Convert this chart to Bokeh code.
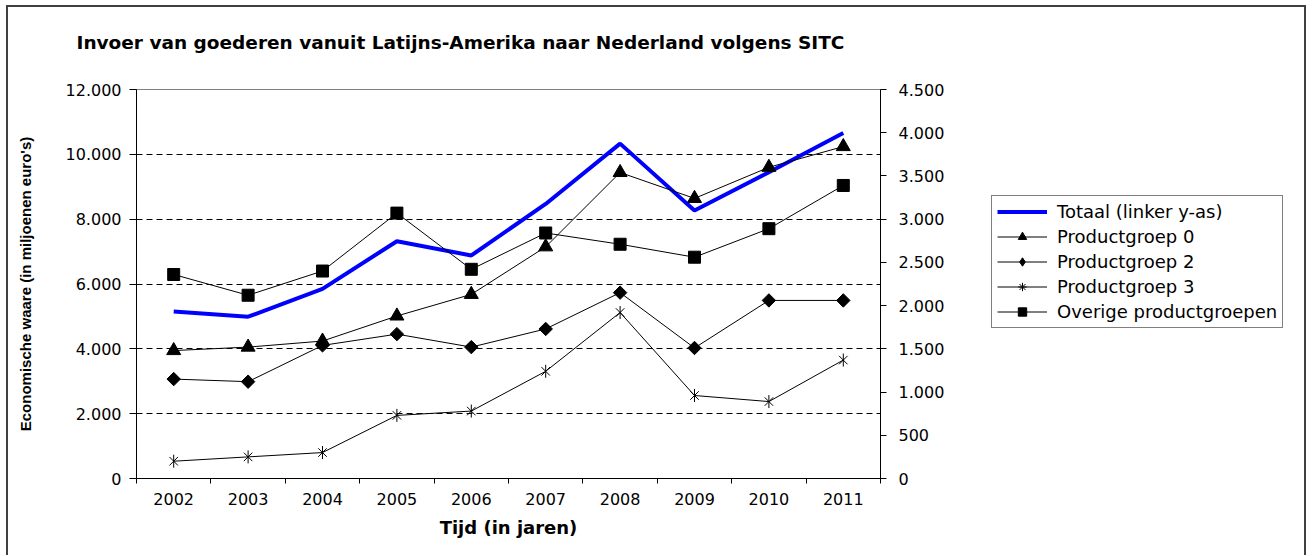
from bokeh.plotting import figure
from bokeh.models import (Range1d, LinearAxis, FixedTicker, CustomJSTickFormatter,
                          Legend, LegendItem, Row, Title)
from bokeh.embed import file_html
from bokeh.resources import INLINE
import math

# ---- data ----
years = ["2002", "2003", "2004", "2005", "2006", "2007", "2008", "2009", "2010", "2011"]
totaal = [5150, 4990, 5850, 7320, 6880, 8470, 10330, 8270, 9450, 10660]      # left axis
pg0 = [1480, 1520, 1590, 1880, 2130, 2680, 3540, 3240, 3600, 3840]           # right axis
pg2 = [1150, 1120, 1540, 1670, 1520, 1730, 2150, 1510, 2060, 2060]
pg3 = [200, 250, 300, 730, 780, 1240, 1920, 960, 890, 1370]
overige = [2360, 2120, 2400, 3070, 2420, 2840, 2710, 2560, 2890, 3390]
left_ticks = [0, 2000, 4000, 6000, 8000, 10000, 12000]
right_ticks = [0, 500, 1000, 1500, 2000, 2500, 3000, 3500, 4000, 4500]

title_text = "Invoer van goederen vanuit Latijns-Amerika naar Nederland volgens SITC"
x_label = "Tijd (in jaren)"
y_label = "Economische waare (in miljoenen euro's)"
names = ["Totaal (linker y-as)", "Productgroep 0", "Productgroep 2",
         "Productgroep 3", "Overige productgroepen"]

# category positions (centre of each category slot)
xs = [i + 0.5 for i in range(len(years))]
bounds = [i for i in range(len(years) + 1)]

FONT = "DejaVu Sans"
fmt = CustomJSTickFormatter(code="return tick.toString().replace(/\\B(?=(\\d{3})+(?!\\d))/g, '.');")

H = 548
p = figure(width=951, height=H, output_backend="svg", toolbar_location=None,
           x_range=Range1d(0, len(years)), y_range=Range1d(left_ticks[0], left_ticks[-1]),
           min_border_left=128, min_border_right=79, min_border_top=82, min_border_bottom=77,
           background_fill_color="white", border_fill_color="white")
p.outline_line_color = "#808080"
p.outline_line_width = 1

# title: an empty spacer title next to the frame, the real title above it
p.title.text = ""
p.title.standoff = 0
p.add_layout(Title(text=" ", text_font_size="1px", standoff=34), "above")
p.add_layout(Title(text=title_text, text_font=FONT, text_font_size="18.5px",
                   text_font_style="bold", text_color="black", align="left",
                   offset=-60, standoff=0), "above")

# x axis
xa = p.xaxis[0]
xa.ticker = FixedTicker(ticks=xs, minor_ticks=bounds)
xa.major_label_overrides = {x: y for x, y in zip(xs, years)}
xa.major_tick_out = 0
xa.major_tick_in = 0
xa.minor_tick_out = 5
xa.minor_tick_in = 0
xa.minor_tick_line_color = "black"
xa.axis_line_color = "black"
xa.major_label_text_font = FONT
xa.major_label_text_font_size = "16px"
xa.major_label_text_color = "black"
xa.major_label_standoff = 9
xa.axis_label = x_label
xa.axis_label_text_font = FONT
xa.axis_label_text_font_size = "18px"
xa.axis_label_text_font_style = "bold"
xa.axis_label_text_color = "black"
xa.axis_label_standoff = 9

# left axis
ya = p.yaxis[0]
ya.ticker = FixedTicker(ticks=left_ticks)
ya.formatter = fmt
ya.major_tick_out = 7
ya.major_tick_in = 0
ya.minor_tick_out = 0
ya.minor_tick_in = 0
ya.axis_line_color = "black"
ya.major_tick_line_color = "black"
ya.major_label_text_font = FONT
ya.major_label_text_font_size = "16px"
ya.major_label_text_color = "black"
ya.major_label_standoff = 8
ya.axis_label = y_label
ya.axis_label_text_font = "Liberation Sans"
ya.axis_label_text_font_size = "15px"
ya.axis_label_text_font_style = "bold"
ya.axis_label_text_color = "black"
ya.axis_label_standoff = 29

# right axis
p.extra_y_ranges = {"right": Range1d(right_ticks[0], right_ticks[-1])}
ra = LinearAxis(y_range_name="right", ticker=FixedTicker(ticks=right_ticks), formatter=fmt)
ra.major_tick_out = 6
ra.major_tick_in = 0
ra.minor_tick_out = 0
ra.minor_tick_in = 0
ra.axis_line_color = "black"
ra.major_tick_line_color = "black"
ra.major_label_text_font = FONT
ra.major_label_text_font_size = "16px"
ra.major_label_text_color = "black"
ra.major_label_standoff = 12
p.add_layout(ra, "right")

# grid
p.xgrid.visible = False
p.ygrid.ticker = FixedTicker(ticks=left_ticks[1:-1])
p.ygrid.grid_line_color = "black"
p.ygrid.grid_line_dash = "6 4"
p.ygrid.grid_line_width = 1

# series
p.line(xs, totaal, line_color="#0000FF", line_width=4)

p.line(xs, pg0, y_range_name="right", line_color="black", line_width=1)
p.scatter(xs, pg0, y_range_name="right", marker="triangle", size=14,
          fill_color="black", line_color="black")

p.line(xs, pg2, y_range_name="right", line_color="black", line_width=1)
p.scatter(xs, pg2, y_range_name="right", marker="square", size=9.5, angle=math.pi / 4,
          fill_color="black", line_color="black")

p.line(xs, pg3, y_range_name="right", line_color="black", line_width=1)
p.scatter(xs, pg3, y_range_name="right", marker="x", size=12,
          line_color="black", line_width=1)
p.scatter(xs, pg3, y_range_name="right", marker="dash", size=13, angle=math.pi / 2,
          line_color="black", line_width=1)

p.line(xs, overige, y_range_name="right", line_color="black", line_width=1)
p.scatter(xs, overige, y_range_name="right", marker="square", size=12,
          fill_color="black", line_color="black")

# ---- legend panel (separate canvas to the right of the chart) ----
q = figure(width=345, height=H, output_backend="svg", toolbar_location=None,
           x_range=Range1d(0, 1), y_range=Range1d(0, 1),
           x_axis_type=None, y_axis_type=None,
           min_border_left=0, min_border_right=0, min_border_top=0, min_border_bottom=0,
           background_fill_color="white", border_fill_color="white")
q.outline_line_color = None
q.xgrid.visible = False
q.ygrid.visible = False

# legend-only swatch renderers: each holds one point placed outside the visible range
off_x, off_y = [-5, -4], [-5, -5]
lg_t = q.line(off_x, off_y, line_color="#0000FF", line_width=4)
lg0l = q.line(off_x, off_y, line_color="black", line_width=1)
lg0m = q.scatter(off_x[:1], off_y[:1], marker="triangle", fill_color="black", line_color="black")
lg2l = q.line(off_x, off_y, line_color="black", line_width=1)
lg2m = q.scatter(off_x[:1], off_y[:1], marker="diamond", fill_color="black", line_color="black")
lg3l = q.line(off_x, off_y, line_color="black", line_width=1)
lg3m = q.scatter(off_x[:1], off_y[:1], marker="asterisk", line_color="black", line_width=1)
lg4l = q.line(off_x, off_y, line_color="black", line_width=1)
lg4m = q.scatter(off_x[:1], off_y[:1], marker="square", fill_color="black", line_color="black")

legend = Legend(items=[
    LegendItem(label=names[0], renderers=[lg_t]),
    LegendItem(label=names[1], renderers=[lg0l, lg0m]),
    LegendItem(label=names[2], renderers=[lg2l, lg2m]),
    LegendItem(label=names[3], renderers=[lg3l, lg3m]),
    LegendItem(label=names[4], renderers=[lg4l, lg4m]),
], location=(32, 150))
legend.border_line_color = "black"
legend.border_line_width = 1
legend.background_fill_color = "white"
legend.background_fill_alpha = 1
legend.label_text_font = FONT
legend.label_text_font_size = "18px"
legend.label_text_color = "black"
legend.glyph_width = 50
legend.glyph_height = 21
legend.label_height = 20
legend.spacing = 4
legend.padding = 5
legend.margin = 0
legend.label_standoff = 10
q.add_layout(legend, "center")

layout = Row(children=[p, q], spacing=0)
layout.styles = {"border-top": "2px solid #404040", "border-left": "2px solid #404040",
                 "border-right": "2px solid #404040", "margin-left": "6px", "margin-top": "5px"}

open("out.html", "w").write(file_html(layout, INLINE))
